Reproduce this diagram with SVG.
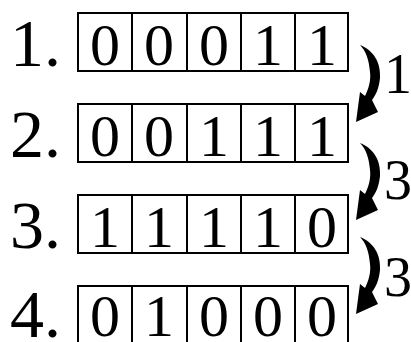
<svg xmlns="http://www.w3.org/2000/svg" width="411" height="342" viewBox="0 0 411 342">
<style>
.box{fill:#fff;stroke:#000;stroke-width:2}
.sep{stroke:#000;stroke-width:2;fill:none}
.d{font-family:"Liberation Serif",serif;font-size:60px;text-anchor:middle;fill:#000}
.lab{font-family:"Liberation Serif",serif;font-size:68px;fill:#000}
.step{font-family:"Liberation Serif",serif;font-size:56px;fill:#000}
.arr{fill:#000}
</style>
<defs>
<path id="arrow" d="M360,45 C373,50 381,62 380,78 C379,88 376,95 372,100 L378,112 L356,122 L360,92 L365,96 C369,88 371,80 370,72 C369,60 366,51 360,45 Z"/>
</defs>
<rect width="411" height="342" fill="#fff"/>
<g id="row1">
<text class="lab" x="10" y="66">1.</text>
<rect class="box" x="78" y="13" width="270" height="58"/>
<path class="sep" d="M132,13V71M187,13V71M241,13V71M295,13V71"/>
<text class="d" x="105" y="65">0</text><text class="d" x="159" y="65">0</text><text class="d" x="214" y="65">0</text><text class="d" x="268" y="65">1</text><text class="d" x="322" y="65">1</text>
</g>
<g id="row2">
<text class="lab" x="10" y="157">2.</text>
<rect class="box" x="78" y="104" width="270" height="58"/>
<path class="sep" d="M132,104V162M187,104V162M241,104V162M295,104V162"/>
<text class="d" x="105" y="156">0</text><text class="d" x="159" y="156">0</text><text class="d" x="214" y="156">1</text><text class="d" x="268" y="156">1</text><text class="d" x="322" y="156">1</text>
</g>
<g id="row3">
<text class="lab" x="10" y="248">3.</text>
<rect class="box" x="78" y="195" width="270" height="58"/>
<path class="sep" d="M132,195V253M187,195V253M241,195V253M295,195V253"/>
<text class="d" x="105" y="247">1</text><text class="d" x="159" y="247">1</text><text class="d" x="214" y="247">1</text><text class="d" x="268" y="247">1</text><text class="d" x="322" y="247">0</text>
</g>
<g id="row4">
<text class="lab" x="10" y="337">4.</text>
<rect class="box" x="78" y="286" width="270" height="60"/>
<path class="sep" d="M132,286V347M187,286V347M241,286V347M295,286V347"/>
<text class="d" x="105" y="336">0</text><text class="d" x="159" y="336">1</text><text class="d" x="214" y="336">0</text><text class="d" x="268" y="336">0</text><text class="d" x="322" y="336">0</text>
</g>
<g id="connectors">
<use href="#arrow" class="arr"/>
<use href="#arrow" class="arr" transform="translate(0,98)"/>
<use href="#arrow" class="arr" transform="translate(0,192)"/>
<text class="step" x="384" y="93">1</text>
<text class="step" x="384" y="199">3</text>
<text class="step" x="384" y="296">3</text>
</g>
</svg>
